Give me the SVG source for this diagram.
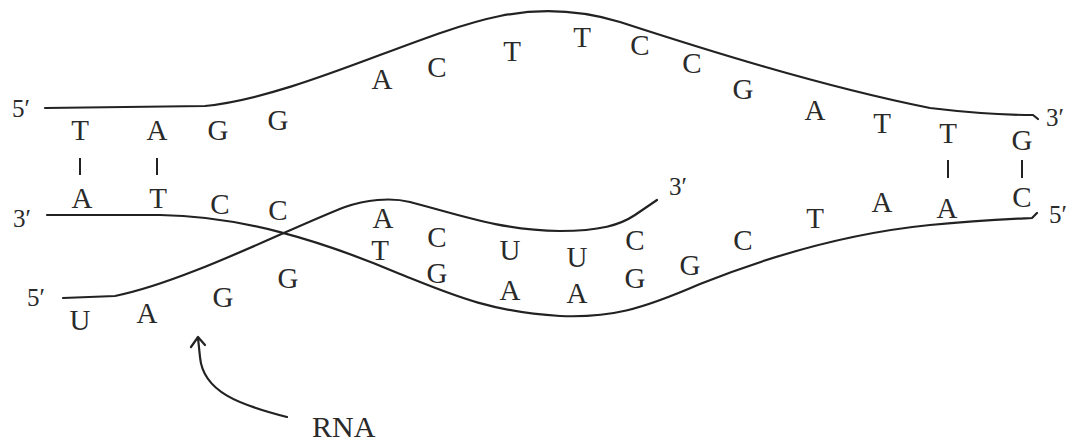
<svg xmlns="http://www.w3.org/2000/svg" width="1081" height="441" viewBox="0 0 1081 441">
<style>
.strand{fill:none;stroke:#222;stroke-width:2.2;stroke-linecap:round;stroke-linejoin:round}
.bond{stroke:#222;stroke-width:2}
.nt{font-family:"Liberation Serif","DejaVu Serif",serif;font-size:29px;fill:#2a2a2a;text-anchor:middle}
.end{font-family:"Liberation Serif","DejaVu Serif",serif;font-size:25px;fill:#2a2a2a}
.lbl{font-family:"Liberation Serif","DejaVu Serif",serif;font-size:30px;fill:#2a2a2a}
</style>
<rect width="1081" height="441" fill="#ffffff"/>
<g id="connectors">
  <path id="top-strand-line" class="strand" d="M45,108 L205,106 C300,96 420,32 500,16 C540,8 580,10 620,22 C700,48 820,86 930,108 C980,114 1010,115 1033,115 L1038,119"/>
  <path id="template-strand-line" class="strand" d="M47,215 L160,215 C240,216 320,240 400,274 C450,294 490,312 560,316 C610,318 640,310 700,284 C780,252 860,232 930,225 C980,220 1010,219 1032,218 L1037,213"/>
  <path id="rna-strand-line" class="strand" d="M63,298 L115,296 C185,282 290,228 345,207 C365,200 390,197 410,202 C460,215 500,230 560,231 C600,231 620,225 635,215 L657,200"/>
  <line class="bond" x1="80" y1="158" x2="80" y2="175"/>
  <line class="bond" x1="157" y1="158" x2="157" y2="175"/>
  <line class="bond" x1="948" y1="160" x2="948" y2="178"/>
  <line class="bond" x1="1022" y1="160" x2="1022" y2="178"/>
  <path id="rna-pointer" class="strand" d="M287,417 C240,405 203,392 200,357 L198,338 M191,347 L198,337 L205,345"/>
</g>
<g id="top-strand">
  <text class="end" x="12" y="117">5′</text>
  <text class="nt" x="80" y="140">T</text>
  <text class="nt" x="157" y="140">A</text>
  <text class="nt" x="218" y="140">G</text>
  <text class="nt" x="278" y="130">G</text>
  <text class="nt" x="382" y="89">A</text>
  <text class="nt" x="437" y="77">C</text>
  <text class="nt" x="512" y="61">T</text>
  <text class="nt" x="582" y="47">T</text>
  <text class="nt" x="640" y="55">C</text>
  <text class="nt" x="692" y="73">C</text>
  <text class="nt" x="743" y="99">G</text>
  <text class="nt" x="815" y="120">A</text>
  <text class="nt" x="882" y="133">T</text>
  <text class="nt" x="948" y="143">T</text>
  <text class="nt" x="1022" y="150">G</text>
  <text class="end" x="1046" y="126">3′</text>
</g>
<g id="template-strand">
  <text class="end" x="13" y="227">3′</text>
  <text class="nt" x="82" y="208">A</text>
  <text class="nt" x="158" y="208">T</text>
  <text class="nt" x="220" y="214">C</text>
  <text class="nt" x="278" y="220">C</text>
  <text class="nt" x="380" y="260">T</text>
  <text class="nt" x="437" y="283">G</text>
  <text class="nt" x="510" y="300">A</text>
  <text class="nt" x="577" y="303">A</text>
  <text class="nt" x="635" y="288">G</text>
  <text class="nt" x="690" y="275">G</text>
  <text class="nt" x="743" y="250">C</text>
  <text class="nt" x="815" y="228">T</text>
  <text class="nt" x="882" y="212">A</text>
  <text class="nt" x="947" y="218">A</text>
  <text class="nt" x="1022" y="207">C</text>
  <text class="end" x="1049" y="223">5′</text>
</g>
<g id="rna-strand">
  <text class="end" x="27" y="306">5′</text>
  <text class="nt" x="80" y="330">U</text>
  <text class="nt" x="147" y="323">A</text>
  <text class="nt" x="223" y="307">G</text>
  <text class="nt" x="288" y="288">G</text>
  <text class="nt" x="383" y="228">A</text>
  <text class="nt" x="437" y="247">C</text>
  <text class="nt" x="510" y="260">U</text>
  <text class="nt" x="577" y="267">U</text>
  <text class="nt" x="635" y="250">C</text>
  <text class="end" x="669" y="195">3′</text>
</g>
<g id="rna-label">
  <text class="lbl" x="312" y="437">RNA</text>
</g>
</svg>
